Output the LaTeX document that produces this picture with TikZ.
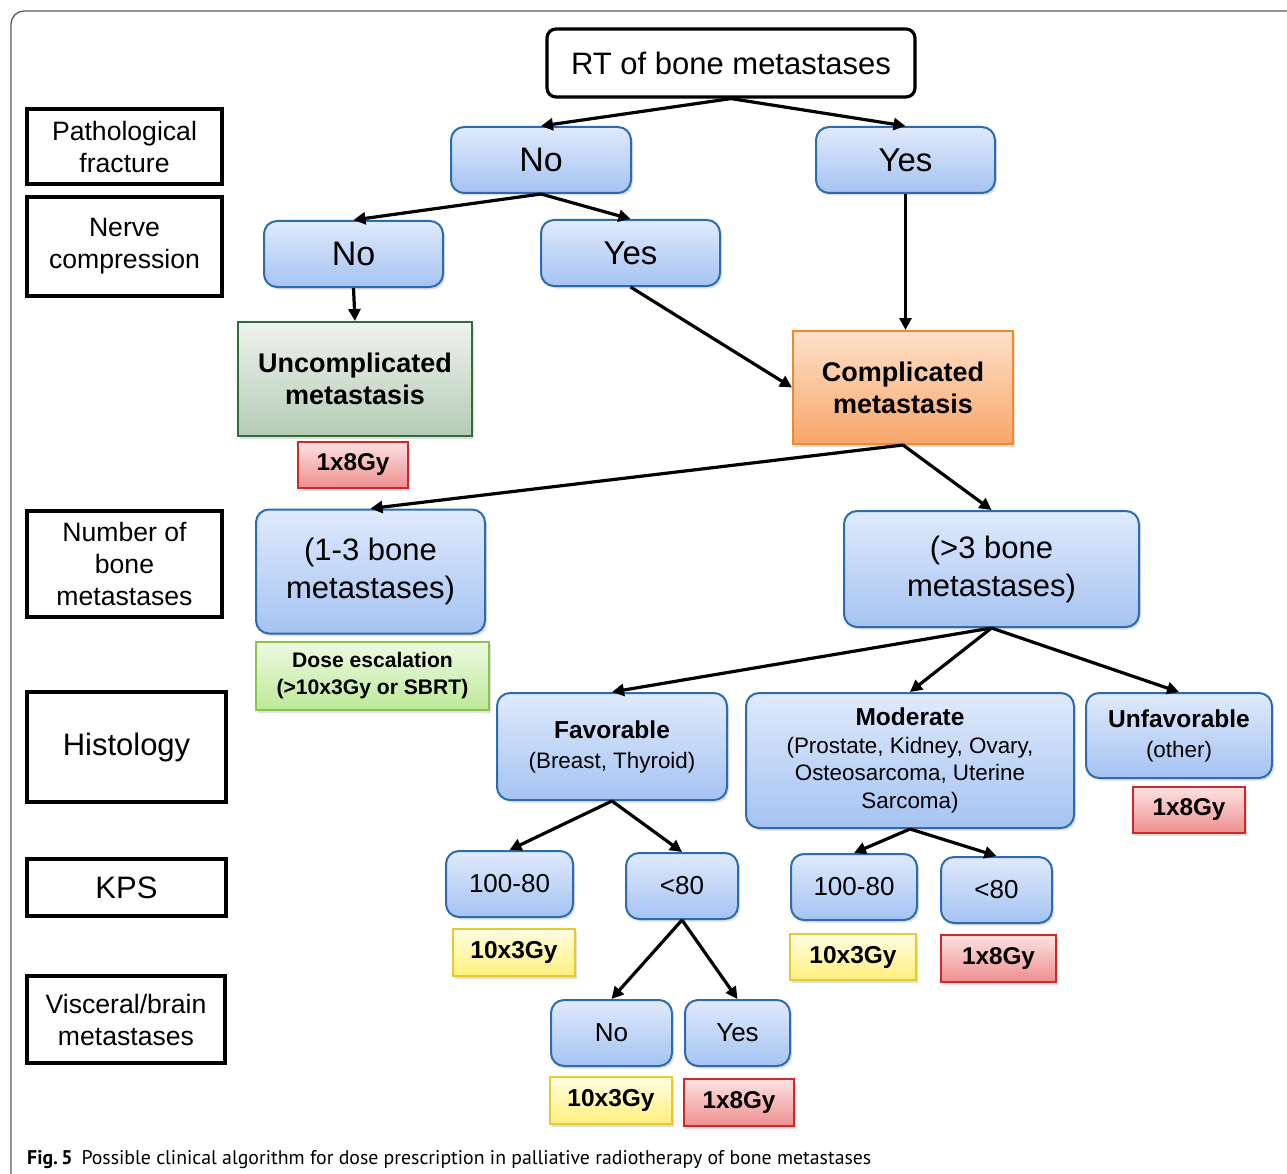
\documentclass[tikz,border=0pt]{standalone}
\usepackage{fontspec}
\setmainfont{Liberation Sans}
\newfontfamily\capfont{PT Sans}
\usetikzlibrary{arrows.meta,shadows}
\newcommand\fsz[2]{\fontsize{#1}{#2}\selectfont}
\definecolor{bluT}{HTML}{E0EAFC}
\definecolor{bluB}{HTML}{A5C3F2}
\definecolor{bluD}{HTML}{2C6CAE}
\definecolor{grnT}{HTML}{EEF3EE}
\definecolor{grnB}{HTML}{B5CBB5}
\definecolor{grnD}{HTML}{2F6E34}
\definecolor{orgT}{HTML}{FDE0C8}
\definecolor{orgB}{HTML}{F8A66A}
\definecolor{orgD}{HTML}{F08A28}
\definecolor{redT}{HTML}{FDE2E2}
\definecolor{redB}{HTML}{EE8E8E}
\definecolor{redD}{HTML}{D02828}
\definecolor{yelT}{HTML}{FFFDE2}
\definecolor{yelB}{HTML}{FFF07A}
\definecolor{yelD}{HTML}{E6CA30}
\definecolor{lgrT}{HTML}{EEFAE2}
\definecolor{lgrB}{HTML}{BDE898}
\definecolor{lgrD}{HTML}{86C44A}
\tikzset{
  sh/.style={drop shadow={shadow xshift=2pt,shadow yshift=-2.5pt,opacity=0.25}},
  lab/.style={draw=black,line width=3.2,inner sep=0,align=center,fill=white,font=\fsz{26.6}{32}},
  topbox/.style={draw=black,line width=3.2,rounded corners=9,inner sep=0,align=center,fill=white,font=\fsz{31}{36}},
  blu/.style={sh,draw=bluD,line width=2,rounded corners=13,inner sep=0,align=center,top color=bluT,bottom color=bluB},
  grnbox/.style={sh,draw=grnD,line width=2,inner sep=0,align=center,top color=grnT,bottom color=grnB,font=\bfseries\fsz{27}{32}},
  orgbox/.style={sh,draw=orgD,line width=2,inner sep=0,align=center,top color=orgT,bottom color=orgB,font=\bfseries\fsz{27}{32}},
  redbox/.style={sh,draw=redD,line width=2,inner sep=0,align=center,top color=redT,bottom color=redB,font=\bfseries\fsz{24.3}{28}},
  yelbox/.style={sh,draw=yelD,line width=2,inner sep=0,align=center,top color=yelT,bottom color=yelB,font=\bfseries\fsz{24.5}{28}},
  lgrbox/.style={sh,draw=lgrD,line width=2,inner sep=0,align=center,top color=lgrT,bottom color=lgrB,font=\bfseries\fsz{21.1}{27}},
  arr/.style={line width=3.2,-{Triangle[length=12,width=12]}},
}
\begin{document}
\begin{tikzpicture}[x=1pt,y=-1pt]
\useasboundingbox (0,0) rectangle (1287,1174);
\draw[draw=black!65,line width=1.3,rounded corners=13] (1320,11) -- (11,11) -- (11,1200);

% left labels
\node[lab,minimum width=195,minimum height=75] (lpf) at (124.5,146.5) {Pathological\\fracture};
\node[lab,minimum width=195,minimum height=99] (lnc) at (124.5,246.5) {Nerve\\compression};
\node[lab,minimum width=195,minimum height=106] (lnb) at (124.5,564) {Number of\\bone\\metastases};
\node[lab,minimum width=199,minimum height=110,font=\fsz{31}{36}] (lhi) at (126.5,747) {Histology};
\node[lab,minimum width=199,minimum height=57,font=\fsz{31}{36}] (lkp) at (126.5,887.5) {KPS};
\node[lab,minimum width=198,minimum height=87] (lvb) at (126,1019.5) {Visceral/brain\\metastases};

% tree
\node[topbox,minimum width=368,minimum height=68] (rt) at (731,63) {RT of bone metastases};
\node[blu,minimum width=180,minimum height=66,font=\fsz{34}{38}] (no1) at (541,160) {No};
\node[blu,minimum width=179,minimum height=66,font=\fsz{33}{38}] (yes1) at (905.5,160) {Yes};
\node[blu,minimum width=179,minimum height=66,font=\fsz{34}{38}] (no2) at (353.5,254) {No};
\node[blu,minimum width=179,minimum height=66,font=\fsz{33}{38}] (yes2) at (630.5,253) {Yes};
\node[grnbox,minimum width=234,minimum height=114] (unc) at (355,379) {Uncomplicated\\metastasis};
\node[redbox,minimum width=110,minimum height=46] (d1) at (353,465) {1x8Gy};
\node[orgbox,minimum width=220,minimum height=113] (comp) at (903,387.5) {Complicated\\metastasis};
\node[blu,minimum width=229,minimum height=124,font=\fsz{31}{38}] (b13) at (370.5,571.5) {(1-3 bone\\metastases)};
\node[blu,minimum width=295,minimum height=116,font=\fsz{31}{38}] (b3) at (991.5,569) {\rule{0pt}{3pt}(>3 bone\\metastases)};
\node[lgrbox,minimum width=233,minimum height=68] (dose) at (372.5,676) {Dose escalation\\(>10x3Gy or SBRT)};
\node[blu,minimum width=230,minimum height=107,font=\fsz{22.4}{30}] (fav) at (612,746.5) {{\bfseries\fsz{24.5}{30}Favorable}\\(Breast, Thyroid)};
\node[blu,minimum width=328,minimum height=135,font=\fsz{22.4}{27.5}] (mod) at (910,760.5) {{\bfseries\fsz{24.5}{27.5}Moderate}\\(Prostate, Kidney, Ovary,\\Osteosarcoma, Uterine\\Sarcoma)};
\node[blu,minimum width=186,minimum height=85,font=\fsz{22.4}{30}] (unf) at (1179,735.5) {{\bfseries\fsz{24.5}{30}Unfavorable}\\(other)};
\node[redbox,minimum width=112,minimum height=46] (d2) at (1189,810) {1x8Gy};
\node[blu,minimum width=127,minimum height=66,font=\fsz{26}{30}] (k1) at (509.5,884) {100-80};
\node[blu,minimum width=112,minimum height=66,font=\fsz{26}{30}] (k2) at (682,886) {<80};
\node[yelbox,minimum width=122,minimum height=47] (d3) at (514,952.5) {10x3Gy};
\node[blu,minimum width=126,minimum height=66,font=\fsz{26}{30}] (k3) at (854,887) {100-80};
\node[blu,minimum width=111,minimum height=66,font=\fsz{26}{30}] (k4) at (996.5,890) {<80};
\node[yelbox,minimum width=126,minimum height=46] (d4) at (853,957) {10x3Gy};
\node[redbox,minimum width=115,minimum height=47] (d5) at (998.5,958.5) {1x8Gy};
\node[blu,minimum width=121,minimum height=66,font=\fsz{26}{30}] (v1) at (611.5,1033) {No};
\node[blu,minimum width=105,minimum height=66,font=\fsz{26}{30}] (v2) at (737.5,1033) {Yes};
\node[yelbox,minimum width=122,minimum height=47] (d6) at (611,1100.5) {10x3Gy};
\node[redbox,minimum width=110,minimum height=47] (d7) at (739,1102.5) {1x8Gy};

% arrows
\draw[arr] (rt.south) -- (no1.north);
\draw[arr] (rt.south) -- (yes1.north);
\draw[arr] (no1.south) -- (no2.north);
\draw[arr] (no1.south) -- (yes2.north);
\draw[arr] (no2.south) -- (unc.north);
\draw[arr] (yes2.south) -- (comp.west);
\draw[arr] (yes1.south) -- (yes1.south |- comp.north);
\draw[arr] (comp.south) -- (b13.north);
\draw[arr] (comp.south) -- (b3.north);
\draw[arr] (b3.south) -- (fav.north);
\draw[arr] (b3.south) -- (mod.north);
\draw[arr] (b3.south) -- (unf.north);
\draw[arr] (fav.south) -- (k1.north);
\draw[arr] (fav.south) -- (k2.north);
\draw[arr] (mod.south) -- (k3.north);
\draw[arr] (mod.south) -- (k4.north);
\draw[arr] (k2.south) -- (v1.north);
\draw[arr] (k2.south) -- (v2.north);

% caption
\node[anchor=base west,inner sep=0,font=\capfont\fsz{19.8}{24}] (cap) at (27,1164) {\textbf{Fig.\,5}\hspace{0.45em}Possible clinical algorithm for dose prescription in palliative radiotherapy of bone metastases};
\end{tikzpicture}
\end{document}
